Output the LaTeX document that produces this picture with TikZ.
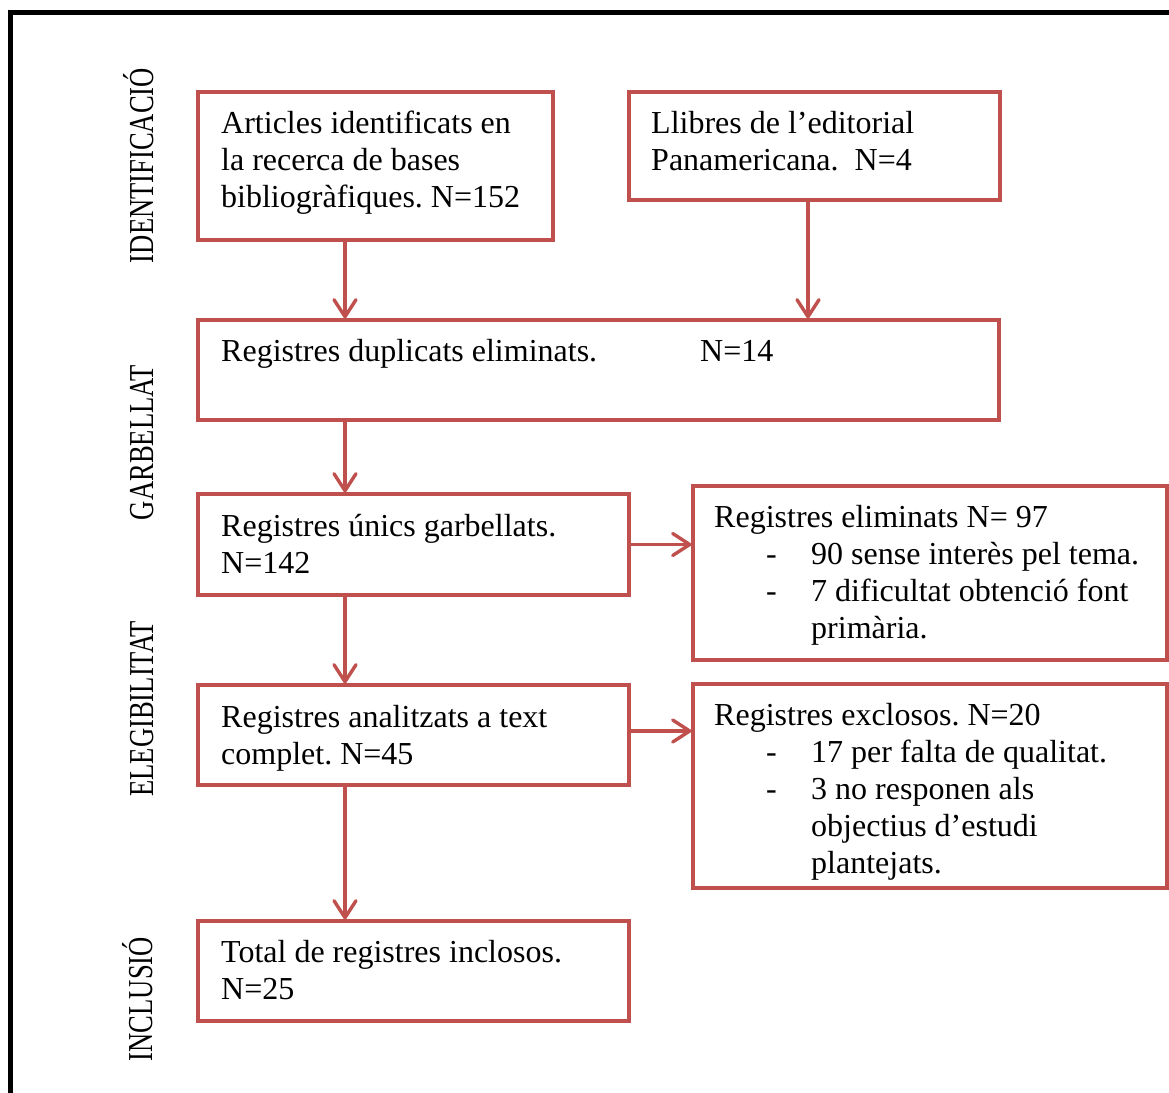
\documentclass[tikz,border=0pt]{standalone}
\usepackage{fontspec}
\setmainfont{Liberation Serif}
\usetikzlibrary{arrows.meta}
\definecolor{boxred}{RGB}{192,80,77}
\frenchspacing
\begin{document}
\begin{tikzpicture}[x=1pt,y=-1pt,
  box/.style={draw=boxred, line width=3.2pt, inner sep=0pt},
  txt/.style={anchor=base west, inner sep=0pt, font=\fontsize{32}{37}\selectfont},
  side/.style={anchor=base, inner sep=0pt, rotate=90, xscale=0.76, font=\fontsize{35}{40}\selectfont},
  arr/.style={draw=boxred, line width=3.4pt, -{Straight Barb[length=17pt,width=22pt,round]}}]
\useasboundingbox (0,0) rectangle (1169,1092);
\clip (0,0) rectangle (1169,1092);
\fill[white] (0,0) rectangle (1169,1092);
\draw[line width=5pt] (10,12.5) rectangle (1200,1120);

% boxes
\node[box, minimum width=355pt, minimum height=148pt] (art) at (375.5,166) {};
\node[box, minimum width=371pt, minimum height=108pt] (llib) at (814.5,146) {};
\node[box, minimum width=801pt, minimum height=100pt] (dup) at (598.5,370) {};
\node[box, minimum width=431pt, minimum height=101pt] (unic) at (413.5,544.5) {};
\node[box, minimum width=474pt, minimum height=174pt] (elim) at (930,573) {};
\node[box, minimum width=431pt, minimum height=100pt] (anal) at (413.5,735) {};
\node[box, minimum width=474pt, minimum height=204pt] (excl) at (930,786) {};
\node[box, minimum width=431pt, minimum height=100pt] (total) at (413.5,971) {};

% texts
\node[txt] (tart) at (221,133) {\begin{tabular}[t]{@{}l@{}}Articles identificats en\\la recerca de bases\\bibliogràfiques. N=152\end{tabular}};
\node[txt] (tllib) at (651,133) {\begin{tabular}[t]{@{}l@{}}Llibres de l’editorial\\Panamericana.~~N=4\end{tabular}};
\node[txt] (tdup) at (221,361) {\makebox[479pt][l]{Registres duplicats eliminats.}N=14};
\node[txt] (tunic) at (221,536) {\begin{tabular}[t]{@{}l@{}}Registres únics garbellats.\\N=142\end{tabular}};
\node[txt] (telim) at (714,527) {\begin{tabular}[t]{@{}l@{}}Registres eliminats N= 97\\
\makebox[97pt][l]{\hspace*{52pt}-}90 sense interès pel tema.\\
\makebox[97pt][l]{\hspace*{52pt}-}7 dificultat obtenció font\\
\hspace*{97pt}primària.\end{tabular}};
\node[txt] (tanal) at (221,727) {\begin{tabular}[t]{@{}l@{}}Registres analitzats a text\\complet. N=45\end{tabular}};
\node[txt] (texcl) at (714,725) {\begin{tabular}[t]{@{}l@{}}Registres exclosos. N=20\\
\makebox[97pt][l]{\hspace*{52pt}-}17 per falta de qualitat.\\
\makebox[97pt][l]{\hspace*{52pt}-}3 no responen als\\
\hspace*{97pt}objectius d’estudi\\
\hspace*{97pt}plantejats.\end{tabular}};
\node[txt] (ttotal) at (221,962) {\begin{tabular}[t]{@{}l@{}}Total de registres inclosos.\\N=25\end{tabular}};

% side labels
\node[side] (s1) at (153,165.5) {IDENTIFICACIÓ};
\node[side] (s2) at (153,442.5) {GARBELLAT};
\node[side] (s3) at (153,709) {ELEGIBILITAT};
\node[side] (s4) at (152.5,999) {INCLUSIÓ};

% arrows
\coordinate (ax) at (345,0);
\coordinate (bx) at (808,0);
\coordinate (ay) at (0,731);
\draw[arr] (art.south -| ax) -- (dup.north -| ax);
\draw[arr] (llib.south -| bx) -- (dup.north -| bx);
\draw[arr] (dup.south -| ax) -- (unic.north -| ax);
\draw[arr] (unic.south -| ax) -- (anal.north -| ax);
\draw[arr] (anal.south -| ax) -- (total.north -| ax);
\draw[arr] (unic.east) -- (unic.east -| elim.west);
\draw[arr] (anal.east |- ay) -- (excl.west |- ay);
\end{tikzpicture}
\end{document}
